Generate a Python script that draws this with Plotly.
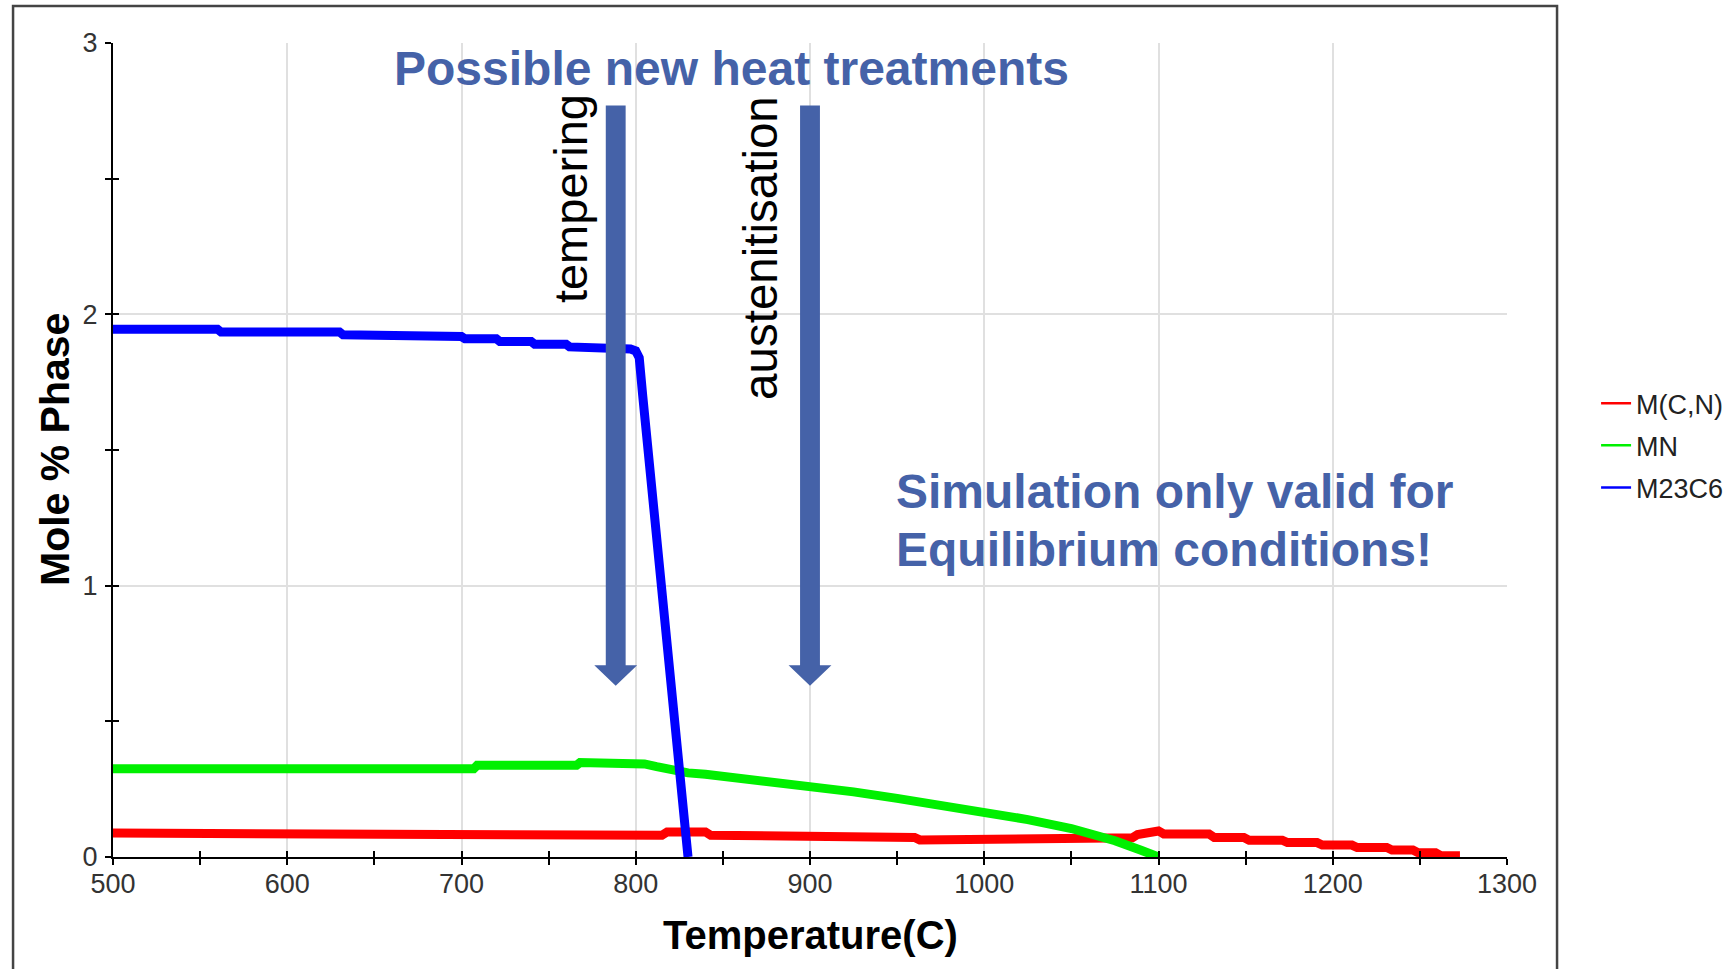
import plotly.graph_objects as go

# ---------------- data ----------------
mcn_T = [500, 710, 712, 815, 818, 840, 843, 900, 905, 960, 963, 1055, 1058, 1085, 1088, 1097, 1100,
         1103, 1129, 1132, 1149, 1152, 1171, 1174, 1191, 1194, 1211, 1214, 1231, 1234, 1246, 1249,
         1259, 1262, 1273]
mcn_y = [0.088, 0.088, 0.08, 0.08, 0.092, 0.092, 0.08, 0.08, 0.072, 0.072, 0.063, 0.063, 0.071, 0.071,
         0.083, 0.088, 0.096, 0.085, 0.085, 0.072, 0.072, 0.062, 0.062, 0.053, 0.053, 0.044, 0.044,
         0.035, 0.035, 0.026, 0.026, 0.016, 0.016, 0.005, 0.005]

mn_T = [500, 707, 709, 766, 768, 800, 805, 812, 820, 830, 840, 850, 870, 900, 925, 950, 975, 1000,
        1025, 1050, 1065, 1075, 1090, 1100]
mn_y = [0.325, 0.325, 0.338, 0.338, 0.348, 0.348, 0.343, 0.333, 0.32, 0.31, 0.305, 0.298, 0.284,
        0.26, 0.24, 0.216, 0.192, 0.167, 0.138, 0.105, 0.08, 0.06, 0.025, 0.0]

m23_T = [500, 560, 562, 630, 632, 670, 672, 700, 702, 720, 722, 740, 742, 760, 762, 775, 777, 797,
         800, 802, 804, 807, 810, 813, 816, 819, 822, 825, 828, 830]
m23_y = [1.945, 1.945, 1.935, 1.935, 1.925, 1.925, 1.918, 1.918, 1.91, 1.91, 1.90, 1.90, 1.89, 1.89,
         1.88, 1.88, 1.872, 1.872, 1.865, 1.84, 1.70, 1.50, 1.28, 1.07, 0.86, 0.66, 0.48, 0.30, 0.13, 0.0]

series_names = ["M(C,N)", "MN", "M23C6"]
series_colors = ["#ff0000", "#00f000", "#0000ff"]

x_ticks = [500, 600, 700, 800, 900, 1000, 1100, 1200, 1300]
y_ticks = [0, 1, 2, 3]

# arrow annotations: (centre temperature, top, head base, tip)
arrow_x = [788.5, 900]
arrow_top = 2.77
arrow_base = 0.707
arrow_tip = 0.631
shaft_half = 5.7
head_half = 12.3

ACCENT = "#4562a8"
FONT = "Liberation Sans, Arial, sans-serif"

fig = go.Figure()
for T, y, name, col in zip([mcn_T, mn_T, m23_T], [mcn_y, mn_y, m23_y], series_names, series_colors):
    fig.add_trace(go.Scatter(x=T, y=y, mode="lines", line=dict(color=col, width=9),
                             showlegend=False, hoverinfo="skip"))
for name, col in zip(series_names, series_colors):
    fig.add_trace(go.Scatter(x=[None], y=[None], mode="lines", name=name,
                             line=dict(color=col, width=2.5), legendgroup=name))
# invisible trace on overlay axes (for ticks crossing the axis line)
fig.add_trace(go.Scatter(x=[None], y=[None], xaxis="x2", yaxis="y2", showlegend=False,
                         hoverinfo="skip"))

shapes = []
for cx in arrow_x:
    path = (f"M{cx - shaft_half},{arrow_top} L{cx + shaft_half},{arrow_top} "
            f"L{cx + shaft_half},{arrow_base} L{cx + head_half},{arrow_base} "
            f"L{cx},{arrow_tip} L{cx - head_half},{arrow_base} L{cx - shaft_half},{arrow_base} Z")
    shapes.append(dict(type="path", xref="x", yref="y", path=path, fillcolor=ACCENT,
                       line=dict(width=0), layer="above"))
# outer frame of the screenshot
shapes.append(dict(type="path", xref="paper", yref="paper",
                   path="M-0.0717,-0.14 L-0.0717,1.0455 L1.0359,1.0455 L1.0359,-0.14",
                   line=dict(color="#444444", width=2.5)))

annotations = [
    dict(x=855, y=2.906, xref="x", yref="y", text="Possible new heat treatments", showarrow=False,
         font=dict(family=FONT, size=48, color=ACCENT, weight="bold"), xanchor="center", yanchor="middle"),
    dict(x=762.3, y=2.425, xref="x", yref="y", text="tempering", textangle=-90, showarrow=False,
         font=dict(family=FONT, size=47, color="#000000"), xanchor="center", yanchor="middle"),
    dict(x=871.9, y=2.245, xref="x", yref="y", text="austenitisation", textangle=-90, showarrow=False,
         font=dict(family=FONT, size=47.5, color="#000000"), xanchor="center", yanchor="middle"),
    dict(x=948.2, y=1.347, xref="x", yref="y", text="Simulation only valid for", showarrow=False,
         font=dict(family=FONT, size=48, color=ACCENT, weight="bold"), xanchor="left", yanchor="middle"),
    dict(x=948.2, y=1.135, xref="x", yref="y", text="Equilibrium conditions!", showarrow=False,
         font=dict(family=FONT, size=48, color=ACCENT, weight="bold"), xanchor="left", yanchor="middle"),
    dict(x=0.5, y=-0.0958, xref="paper", yref="paper", text="Temperature(C)", showarrow=False,
         font=dict(family=FONT, size=40, color="#000000", weight="bold"), xanchor="center", yanchor="middle"),
    dict(x=-0.0416, y=0.5, xref="paper", yref="paper", text="Mole % Phase", textangle=-90, showarrow=False,
         font=dict(family=FONT, size=41, color="#000000", weight="bold"), xanchor="center", yanchor="middle"),
]

fig.update_layout(
    width=1735, height=969,
    margin=dict(l=113, r=228, t=43, b=112, autoexpand=False),
    paper_bgcolor="white", plot_bgcolor="white",
    shapes=shapes, annotations=annotations,
    legend=dict(x=1.0639, y=0.587, xanchor="left", yanchor="top", tracegroupgap=4,
                font=dict(family=FONT, size=27, color="#222222"), bgcolor="rgba(0,0,0,0)"),
    showlegend=True,
)
tick_common = dict(ticklen=6, tickwidth=2, tickcolor="#000000")
fig.update_layout(
    xaxis=dict(range=[500, 1300], tickvals=x_ticks, ticktext=[str(v) for v in x_ticks],
               showline=True, linecolor="#000000", linewidth=2, ticks="outside", **tick_common,
               minor=dict(dtick=50, ticks="outside", showgrid=False, **tick_common),
               showgrid=True, gridcolor="#e0e0e0", gridwidth=2, zeroline=False,
               tickfont=dict(family=FONT, size=27, color="#333333"), ticklabelstandoff=-4),
    yaxis=dict(range=[0, 3], tickvals=y_ticks, ticktext=[str(v) for v in y_ticks],
               showline=True, linecolor="#000000", linewidth=2, ticks="outside", **tick_common,
               minor=dict(dtick=0.5, ticks="outside", showgrid=False, **tick_common),
               showgrid=True, gridcolor="#e0e0e0", gridwidth=2, zeroline=False,
               tickfont=dict(family=FONT, size=27, color="#333333"), ticklabelstandoff=2),
    xaxis2=dict(overlaying="x", matches="x", range=[500, 1300], tickvals=x_ticks, ticks="inside",
                **tick_common, minor=dict(dtick=50, ticks="inside", showgrid=False, **tick_common),
                showticklabels=False, showgrid=False, zeroline=False, showline=False, anchor="y2"),
    yaxis2=dict(overlaying="y", matches="y", range=[0, 3], tickvals=y_ticks, ticks="inside",
                **tick_common, minor=dict(dtick=0.5, ticks="inside", showgrid=False, **tick_common),
                showticklabels=False, showgrid=False, zeroline=False, showline=False, anchor="x2"),
)

fig.write_html("out.html")
